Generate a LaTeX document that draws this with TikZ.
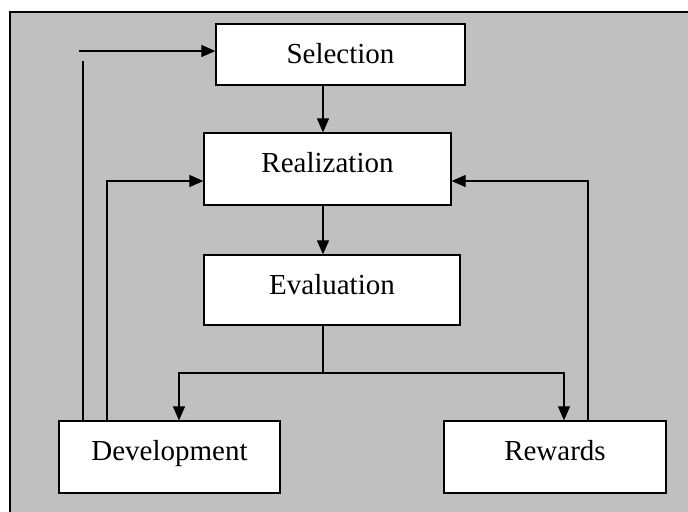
\documentclass[tikz,border=0pt]{standalone}
\usepackage{fontspec}
\setmainfont{Liberation Serif}
\usetikzlibrary{arrows.meta}
\definecolor{panel}{RGB}{192,192,192}
\tikzset{
  stage/.style={draw, fill=white, line width=0.65pt, inner xsep=0pt, inner ysep=0pt,
    text height=19.5pt, font=\fontsize{14.5pt}{17pt}\selectfont},
  flow/.style={line width=0.6pt, -{Triangle[length=7pt,width=6pt]}},
  link/.style={line width=0.6pt}
}
\begin{document}
\begin{tikzpicture}[x=0.5pt,y=-0.5pt]
\useasboundingbox (0,0) rectangle (688,511);
\fill[panel] (10,12) rectangle (700,520);
\draw[line width=0.7pt] (10,520) -- (10,12) -- (700,12);

\node[stage, minimum width=124.5pt, text depth=11pt] (sel) at (340.5,54.5) {Selection};
\node[stage, minimum width=123.5pt, text depth=16.5pt] (rea) at (327.5,169) {Realization};
\node[stage, minimum width=128pt, text depth=15.5pt] (eva) at (332,290) {Evaluation};
\node[stage, minimum width=110.5pt, text depth=16.5pt] (dev) at (169.5,457) {Development};
\node[stage, minimum width=111pt, text depth=16.5pt] (rew) at (555,457) {Rewards};

\coordinate (fork) at (323,373);
\coordinate (devin) at (179,373);
\coordinate (rewin) at (564,373);
\coordinate (loopa) at (83,61);
\coordinate (loopb) at (79,51);
\coordinate (loopc) at (107,181);
\coordinate (loopd) at (588,181);

\draw[flow] (fork |- sel.south) -- (fork |- rea.north);
\draw[flow] (fork |- rea.south) -- (fork |- eva.north);
\draw[link] (fork |- eva.south) -- (fork);
\draw[flow] (fork) -- (devin) -- (devin |- dev.north);
\draw[flow] (fork) -- (rewin) -- (rewin |- rew.north);

\draw[link] (loopa |- dev.north) -- (loopa);
\draw[flow] (loopb) -- (loopb -| sel.west);
\draw[flow] (loopc |- dev.north) -- (loopc) -- (loopc -| rea.west);
\draw[flow] (loopd |- rew.north) -- (loopd) -- (loopd -| rea.east);
\end{tikzpicture}
\end{document}
